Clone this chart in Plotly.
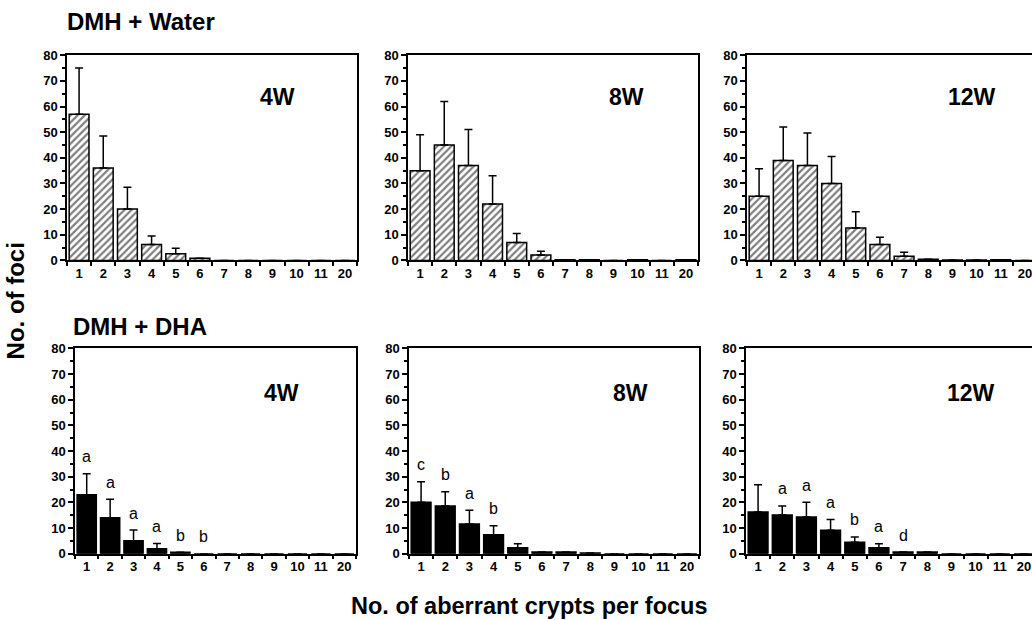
import plotly.graph_objects as go

categories = ["1", "2", "3", "4", "5", "6", "7", "8", "9", "10", "11", "20"]

# DMH + Water (hatched)
water_4w = [57, 36, 20, 6.2, 2.6, 0.8, 0, 0, 0, 0, 0, 0]
water_4w_err = [18, 12.5, 8.5, 3.3, 2.1, None, None, None, None, None, None, None]
water_8w = [35, 45, 37, 22, 7, 2.1, 0.3, 0.3, 0, 0.3, 0, 0.3]
water_8w_err = [14, 17, 14, 11, 3.5, 1.5, None, None, None, None, None, None]
water_12w = [25, 39, 37, 30, 12.6, 6.2, 1.6, 0.5, 0.2, 0.2, 0.3, 0]
water_12w_err = [10.7, 13, 12.7, 10.5, 6.4, 2.8, 1.6, None, None, None, None, None]

# DMH + DHA (solid)
dha_4w = [23, 14, 5, 1.9, 0.5, 0, 0, 0, 0, 0, 0, 0]
dha_4w_err = [8.2, 7.2, 4.2, 2.1, None, None, None, None, None, None, None, None]
dha_4w_letters = ["a", "a", "a", "a", "b", "b", "", "", "", "", "", ""]
dha_8w = [20, 18.6, 11.6, 7.4, 2.3, 0.6, 0.6, 0.3, 0, 0, 0, 0]
dha_8w_err = [8, 5.5, 5.3, 3.5, 1.6, None, None, None, None, None, None, None]
dha_8w_letters = ["c", "b", "a", "b", "", "", "", "", "", "", "", ""]
dha_12w = [16.2, 15.1, 14.3, 9.1, 4.4, 2.3, 0.6, 0.6, 0, 0, 0, 0]
dha_12w_err = [10.7, 3.5, 5.7, 4.2, 2.1, 1.6, None, None, None, None, None, None]
dha_12w_letters = ["", "a", "a", "a", "b", "a", "d", "", "", "", "", ""]

panel_labels = ["4W", "8W", "12W", "4W", "8W", "12W"]
row_titles = ["DMH + Water", "DMH + DHA"]
y_title = "No. of foci"
x_title = "No. of aberrant crypts per focus"

W, H = 1032, 620
FONT = "Liberation Sans, Arial, sans-serif"


def py(y):
    # target pixel row -> figure pixel row (compensates page offset/scale)
    return (y - 7.8) / 0.975


def fy(y):
    return 1 - py(y) / H


# pixel boxes (left, right, top, bottom)
boxes = [
    (67, 357, 56, 261), (408, 698, 56, 261), (747, 1032, 56, 261),
    (75, 356, 349, 554), (409, 699, 349, 554), (746, 1032, 349, 554),
]
# panel-label centers in pixels
label_px = [(277, 98), (626, 98), (972, 98), (281, 393), (630, 393), (971, 393)]

series = [
    (water_4w, water_4w_err, None),
    (water_8w, water_8w_err, None),
    (water_12w, water_12w_err, None),
    (dha_4w, dha_4w_err, dha_4w_letters),
    (dha_8w, dha_8w_err, dha_8w_letters),
    (dha_12w, dha_12w_err, dha_12w_letters),
]

fig = go.Figure()
annotations = []
layout_axes = {}

for i, (vals, errs, letters) in enumerate(series):
    n = i + 1
    xa = "x" if n == 1 else f"x{n}"
    ya = "y" if n == 1 else f"y{n}"
    l, r, t, b = boxes[i]
    hatched = i < 3
    marker = dict(color="white" if hatched else "black",
                  line=dict(color="black", width=1.5))
    if hatched:
        marker["pattern"] = dict(shape="/", fgcolor="black", bgcolor="white",
                                 size=5, solidity=0.45)
    zeros = [0 if e is not None else None for e in errs]
    fig.add_trace(go.Bar(
        x=categories, y=vals, xaxis=xa, yaxis=ya, width=0.82,
        marker=marker, showlegend=False,
        error_y=dict(type="data", array=errs, arrayminus=zeros, symmetric=False,
                     color="black", thickness=1.5, width=4),
    ))
    clipped = r >= W
    full_w = 290 if clipped else (r - l)
    xmax = -0.5 + 12 * (r - l) / full_w
    layout_axes["xaxis" if n == 1 else f"xaxis{n}"] = dict(
        domain=[l / W, min(r / W, 1.0)], anchor=ya, type="category",
        range=[-0.5, xmax], showline=True, linecolor="black", linewidth=1.5,
        mirror=True, ticks="outside", tickson="boundaries", ticklen=4,
        tickcolor="black", tickwidth=1.5, showgrid=False, zeroline=False,
        tickangle=0,
        tickfont=dict(family=FONT, size=13, color="black", weight="bold"),
        fixedrange=True,
    )
    layout_axes["yaxis" if n == 1 else f"yaxis{n}"] = dict(
        domain=[fy(b), fy(t)], anchor=xa, range=[0, 80],
        tickvals=[0, 10, 20, 30, 40, 50, 60, 70, 80],
        showline=True, linecolor="black", linewidth=1.5,
        mirror=not clipped, ticks="outside", ticklen=5, tickwidth=1.5,
        tickcolor="black",
        minor=dict(dtick=5, ticks="outside", ticklen=3, tickcolor="black"),
        showgrid=False, zeroline=False,
        tickfont=dict(family=FONT, size=13, color="black", weight="bold"),
        fixedrange=True,
    )
    lx, ly = label_px[i]
    annotations.append(dict(text=f"<b>{panel_labels[i]}</b>", xref="paper", yref="paper",
                            x=lx / W, y=fy(ly), xanchor="center", yanchor="middle",
                            showarrow=False,
                            font=dict(family=FONT, size=23, color="black")))
    if letters:
        for k, (v, e, letter) in enumerate(zip(vals, errs, letters)):
            if letter:
                annotations.append(dict(
                    text=letter, xref=xa, yref=ya, x=k, y=v + (e or 0),
                    xanchor="center", yanchor="middle", yshift=17, showarrow=False,
                    font=dict(family=FONT, size=16, color="black")))

annotations += [
    dict(text=f"<b>{row_titles[0]}</b>", xref="paper", yref="paper",
         x=65 / W, y=fy(22), xanchor="left", yanchor="middle", showarrow=False,
         font=dict(family=FONT, size=24, color="black")),
    dict(text=f"<b>{row_titles[1]}</b>", xref="paper", yref="paper",
         x=71 / W, y=fy(327), xanchor="left", yanchor="middle", showarrow=False,
         font=dict(family=FONT, size=24, color="black")),
    dict(text=f"<b>{y_title}</b>", xref="paper", yref="paper",
         x=15 / W, y=fy(302), textangle=-90, xanchor="center", yanchor="middle",
         showarrow=False, font=dict(family=FONT, size=24, color="black")),
    dict(text=f"<b>{x_title}</b>", xref="paper", yref="paper",
         x=529 / W, y=fy(606), xanchor="center", yanchor="middle",
         showarrow=False, font=dict(family=FONT, size=23.5, color="black")),
]

fig.update_layout(
    width=W, height=H, margin=dict(l=0, r=0, t=0, b=0),
    paper_bgcolor="white", plot_bgcolor="white",
    annotations=annotations, **layout_axes,
)

fig.write_html("out.html", config={"displayModeBar": False},
               post_script="document.body.style.margin='0';document.body.style.overflow='hidden';")
